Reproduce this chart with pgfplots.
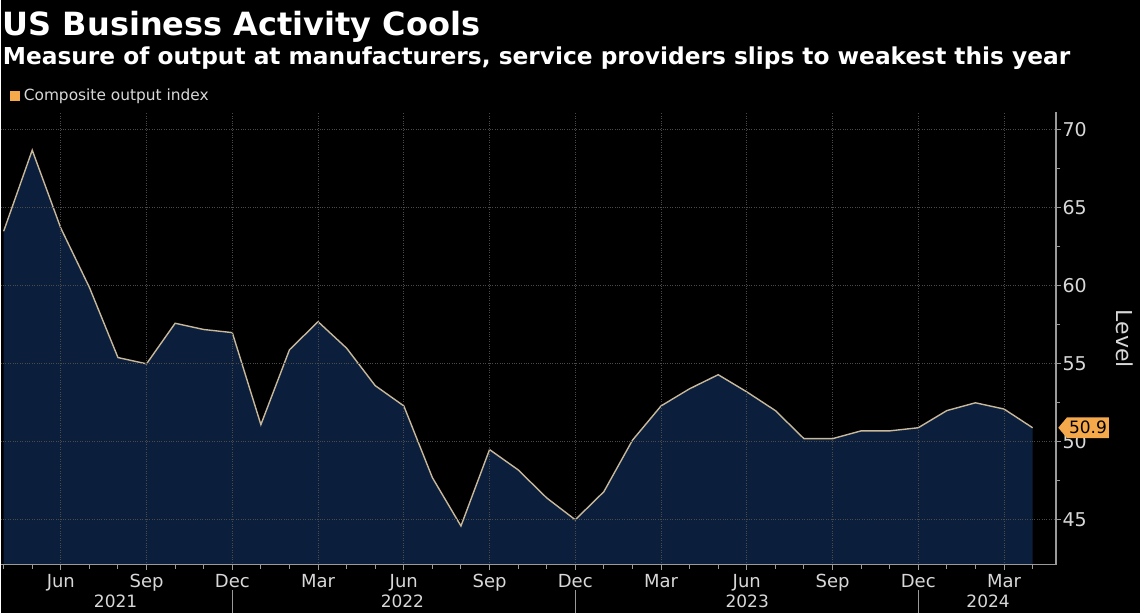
\documentclass[border=0pt]{standalone}
\usepackage{fontspec}
\setmainfont{DejaVu Sans}
\usepackage{pgfplots}
\usepackage{pgfplotstable}
\pgfplotsset{compat=1.18}
\usetikzlibrary{shapes.symbols}
\definecolor{navy}{HTML}{0B1F3D}
\definecolor{beige}{HTML}{C8B89A}
\definecolor{orng}{HTML}{F6A94A}
\definecolor{gridc}{HTML}{4A4A4A}
\definecolor{axisgray}{HTML}{9A9A9A}
\definecolor{lbl}{HTML}{D8D8D8}

% month index: 0 = Apr 2021
\pgfplotstableread{
i v
0 63.5
1 68.7
2 63.7
3 59.9
4 55.4
5 55.0
6 57.6
7 57.2
8 57.0
9 51.1
10 55.9
11 57.7
12 56.0
13 53.6
14 52.3
15 47.7
16 44.6
17 49.5
18 48.2
19 46.4
20 45.0
21 46.8
22 50.1
23 52.3
24 53.4
25 54.3
26 53.2
27 52.0
28 50.2
29 50.2
30 50.7
31 50.7
32 50.9
33 52.0
34 52.5
35 52.1
36 50.9
}\datatable

\begin{document}
\begin{tikzpicture}[x=1pt,y=1pt]
\fill[black] (0pt,0pt) rectangle (1140pt,613pt);
\begin{axis}[
  at={(0pt,48pt)}, anchor=south west,
  scale only axis, width=1056pt, height=453pt,
  xmin=-0.105, xmax=36.82, ymin=42.12, ymax=71.15,
  axis x line*=bottom, axis y line*=right,
  axis line style={axisgray, line width=1.3pt},
  axis on top,
  tick align=outside,
  xtick={2,5,...,35},
  xticklabels={Jun,Sep,Dec,Mar,Jun,Sep,Dec,Mar,Jun,Sep,Dec,Mar},
  minor xtick={0,...,36},
  ytick={45,50,...,70},
  minor ytick={47.5,52.5,...,67.5},
  major tick length=5pt, minor tick length=4pt,
  tick style={axisgray, line width=1pt},
  grid=major,
  major grid style={gridc, dotted, line width=0.9pt},
  xticklabel style={lbl, font=\fontsize{18}{18}\selectfont, yshift=-1pt},
  yticklabel style={lbl, font=\fontsize{19}{19}\selectfont, xshift=-2pt},
  /pgf/number format/assume math mode=true,
]
\addplot[draw=none, fill=navy] table[x=i, y=v] {\datatable} \closedcycle;
\addplot[beige, line width=1.4pt] table[x=i, y=v] {\datatable};
\coordinate (lab) at (axis cs:36.82,50.9);
\end{axis}
% year separators and labels
\foreach \xx in {232,575,918} \draw[axisgray, line width=1pt] (\xx pt,0pt) -- (\xx pt,23pt);
\foreach \xx/\yy in {115/2021,402/2022,747/2023,988/2024}
  \node[lbl, font=\fontsize{17}{17}\selectfont] at (\xx pt,11pt) {\yy};
% last value label
\node[signal, signal to=west, signal pointer angle=100, fill=orng, text=black, inner xsep=2pt, inner ysep=4pt, anchor=west, font=\fontsize{17}{17}\selectfont] at ([xshift=2pt]lab) {50.9};
% axis title
\node[lbl, rotate=-90, font=\fontsize{22}{22}\selectfont] at (1125pt,274pt) {Level};
% titles
\node[white, anchor=base west, inner sep=0pt, font=\fontsize{32}{32}\selectfont\bfseries] at (2pt,577pt) {US Business Activity Cools};
\node[white, anchor=base west, inner sep=0pt, font=\fontsize{23.3}{23.3}\selectfont\bfseries] at (2pt,548pt) {Measure of output at manufacturers, service providers slips to weakest this year};
% legend
\fill[orng] (9pt,512pt) rectangle (19pt,522pt);
\node[lbl, anchor=base west, inner sep=0pt, font=\fontsize{15.4}{15.4}\selectfont] at (23pt,512pt) {Composite output index};
\end{tikzpicture}
\end{document}
